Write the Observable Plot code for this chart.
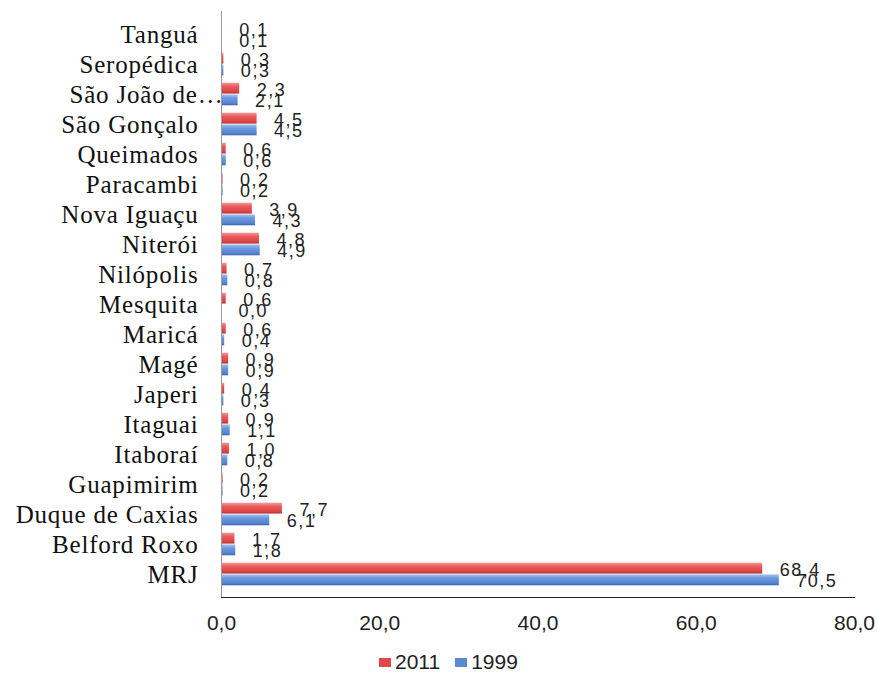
<!DOCTYPE html>
<html>
<head>
<meta charset="utf-8">
<script src="https://cdn.jsdelivr.net/npm/d3@7"></script>
<script src="https://cdn.jsdelivr.net/npm/@observablehq/plot@0.6"></script>
<style>
  html, body { margin: 0; padding: 0; background: #fff; }
  #chart { width: 877px; }
  .legend { display: flex; align-items: center; margin-left: 379px; margin-top: 2px; line-height: 20px; height: 20px;
    font-family: "Liberation Sans", Arial, sans-serif; font-size: 21px; color: #222; }
  .legend span.sw { display: inline-block; width: 12px; height: 9px; margin-right: 4px; }
  .legend .item { display: flex; align-items: center; margin-right: 15px; }
</style>
</head>
<body>
<div id="chart"></div>
<script>
const categories = ["Tanguá","Seropédica","São João de…","São Gonçalo","Queimados","Paracambi",
  "Nova Iguaçu","Niterói","Nilópolis","Mesquita","Maricá","Magé","Japeri","Itaguai","Itaboraí",
  "Guapimirim","Duque de Caxias","Belford Roxo","MRJ"];
const values2011 = [0.1,0.3,2.3,4.5,0.6,0.2,3.9,4.8,0.7,0.6,0.6,0.9,0.4,0.9,1.0,0.2,7.7,1.7,68.4];
const values1999 = [0.1,0.3,2.1,4.5,0.6,0.2,4.3,4.9,0.8,0.0,0.4,0.9,0.3,1.1,0.8,0.2,6.1,1.8,70.5];
const xTicks = [0,20,40,60,80];
const seriesNames = ["2011","1999"];
const seriesColors = ["#e04848","#5b8ad2"];

const data = [];
categories.forEach((c,i) => {
  data.push({name:c, series:"2011", value:values2011[i]});
  data.push({name:c, series:"1999", value:values1999[i]});
});
const fmt = v => d3.format(".1f")(v).replace(".", ",");

const W = 877, H = 650, mt = 11, mb = 53, ml = 221, mr = 23;
const band = (H - mt - mb) / categories.length;
const gap = band * 0.12;
const half = band / 2;

const red = data.filter(d => d.series === "2011");
const blue = data.filter(d => d.series === "1999");

const chart = Plot.plot({
  width: W, height: H,
  marginTop: mt, marginBottom: mb, marginLeft: ml, marginRight: mr,
  style: {fontFamily: "'Liberation Sans', Arial, sans-serif", fontSize: "21px", color: "#222", background: "#fff"},
  x: {domain: [0,80], ticks: xTicks, tickFormat: fmt, tickSize: 0, tickPadding: 18, label: null, line: true},
  y: {domain: categories, padding: 0, tickSize: 0, tickPadding: 23, label: null},
  marks: [
    Plot.barX(red, {x: "value", y: "name", fill: seriesColors[0], insetTop: gap, insetBottom: half}),
    Plot.barX(blue, {x: "value", y: "name", fill: seriesColors[1], insetTop: half, insetBottom: gap}),
    Plot.ruleX([0], {stroke: "#999"}),
    Plot.text(red, {x: "value", y: "name", text: d => fmt(d.value), dx: 17, dy: -4, textAnchor: "start", fill: "#222", fontSize: 18}),
    Plot.text(blue, {x: "value", y: "name", text: d => fmt(d.value), dx: 17, dy: 7, textAnchor: "start", fill: "#222", fontSize: 18})
  ]
});

const svg = d3.select(chart.tagName.toLowerCase() === "svg" ? chart : chart.querySelector("svg"));
// y axis labels in serif
svg.selectAll('[aria-label^="y-axis"] text')
  .style("font-family", "'Liberation Serif', 'Times New Roman', serif")
  .style("font-size", "25px")
  .style("letter-spacing", "0.8px")
  .attr("fill", "#111")
  .each(function(){ if (this.textContent.endsWith("…")) this.setAttribute("dx", "25"); });
svg.selectAll('[aria-label^="x-axis"] text').attr("fill", "#222");
svg.selectAll('[aria-label^="x-axis"] path, [aria-label^="x-axis"] line').attr("stroke", "#999");
svg.selectAll('[aria-label="text"] text').style("letter-spacing", "1.5px");

// gradients
const defs = svg.insert("defs", ":first-child");
const mk = (id, stops) => {
  const g = defs.append("linearGradient").attr("id", id).attr("x1",0).attr("y1",0).attr("x2",0).attr("y2",1);
  stops.forEach(([o,c]) => g.append("stop").attr("offset", o).attr("stop-color", c));
};
mk("gRed", [[0,"#f39a9a"],[0.35,"#ea5a5a"],[0.8,"#dc4444"],[1,"#b83232"]]);
mk("gBlue", [[0,"#a3c2ee"],[0.35,"#6b98dc"],[0.8,"#5685cf"],[1,"#3c67b0"]]);
svg.selectAll("g, rect").each(function(){
  const f = this.getAttribute("fill");
  if (f === seriesColors[0]) this.setAttribute("fill","url(#gRed)");
  if (f === seriesColors[1]) this.setAttribute("fill","url(#gBlue)");
});

document.getElementById("chart").appendChild(chart);

const legend = document.createElement("div");
legend.className = "legend";
seriesNames.forEach((s,i) => {
  const it = document.createElement("div"); it.className = "item";
  const sw = document.createElement("span"); sw.className = "sw"; sw.style.background = seriesColors[i];
  it.appendChild(sw); it.appendChild(document.createTextNode(s));
  legend.appendChild(it);
});
document.getElementById("chart").appendChild(legend);
</script>
</body>
</html>
